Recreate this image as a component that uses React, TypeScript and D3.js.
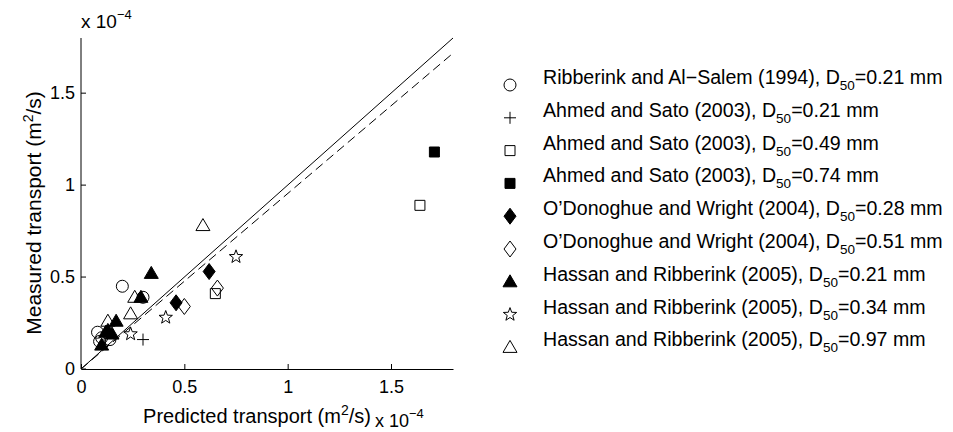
import { useEffect, useRef } from 'react';
import * as d3 from 'd3';

type Pt = [number, number];

// values in units of 1e-4 m^2/s : [predicted, measured]
const ribberinkAlSalem021: Pt[] = [[0.08, 0.2], [0.1, 0.17], [0.14, 0.16], [0.09, 0.15], [0.2, 0.45], [0.3, 0.39]];
const ahmedSato021: Pt[] = [[0.3, 0.16]];
const ahmedSato049: Pt[] = [[0.65, 0.41], [1.64, 0.89]];
const ahmedSato074: Pt[] = [[1.71, 1.18]];
const odonoghueWright028: Pt[] = [[0.46, 0.36], [0.62, 0.53]];
const odonoghueWright051: Pt[] = [[0.5, 0.34], [0.66, 0.44]];
const hassanRibberink021: Pt[] = [[0.1, 0.13], [0.13, 0.21], [0.15, 0.19], [0.12, 0.2], [0.17, 0.26], [0.29, 0.39], [0.34, 0.52]];
const hassanRibberink034: Pt[] = [[0.24, 0.19], [0.41, 0.28], [0.75, 0.61]];
const hassanRibberink097: Pt[] = [[0.13, 0.26], [0.24, 0.3], [0.26, 0.39], [0.59, 0.78]];

const seriesNames = [
  ['Ribberink and Al\u2212Salem (1994), D', '50', '=0.21 mm'],
  ['Ahmed and Sato (2003), D', '50', '=0.21 mm'],
  ['Ahmed and Sato (2003), D', '50', '=0.49 mm'],
  ['Ahmed and Sato (2003), D', '50', '=0.74 mm'],
  ['O\u2019Donoghue and Wright (2004), D', '50', '=0.28 mm'],
  ['O\u2019Donoghue and Wright (2004), D', '50', '=0.51 mm'],
  ['Hassan and Ribberink (2005), D', '50', '=0.21 mm'],
  ['Hassan and Ribberink (2005), D', '50', '=0.34 mm'],
  ['Hassan and Ribberink (2005), D', '50', '=0.97 mm'],
];
const seriesMarkers = ['circle', 'plus', 'square', 'square', 'diamond', 'diamond', 'triangle', 'star', 'triangle'];
const seriesFilled = [false, false, false, true, true, false, true, false, false];
const seriesData = [
  ribberinkAlSalem021, ahmedSato021, ahmedSato049, ahmedSato074,
  odonoghueWright028, odonoghueWright051,
  hassanRibberink021, hassanRibberink034, hassanRibberink097,
];

const xTicks = [0, 0.5, 1, 1.5];
const yTicks = [0, 0.5, 1, 1.5];
const dashedSlope = 0.954;

const FONT = '"Liberation Sans", Arial, Helvetica, sans-serif';

// marker outline centred on 0,0
const markerPath = (kind: string) => {
  switch (kind) {
    case 'circle':
      return 'M6,0A6,6 0 1,1 -6,0A6,6 0 1,1 6,0Z';
    case 'plus':
      return 'M-6,0H6M0,-6V6';
    case 'square':
      return 'M-5,-5H5V5H-5Z';
    case 'diamond':
      return 'M0,-8L6,0L0,8L-6,0Z';
    case 'triangle':
      return 'M0,-7L7,5H-7Z';
    case 'star': {
      const pts: string[] = [];
      for (let i = 0; i < 10; i++) {
        const r = i % 2 === 0 ? 7 : 2.9;
        const a = -Math.PI / 2 + (i * Math.PI) / 5;
        pts.push(`${(r * Math.cos(a)).toFixed(2)},${(r * Math.sin(a)).toFixed(2)}`);
      }
      return 'M' + pts.join('L') + 'Z';
    }
    default:
      return '';
  }
};

const TransportScatter = () => {
  const svgRef = useRef<SVGSVGElement>(null);
  const width = 953;
  const height = 432;

  useEffect(() => {
    if (!svgRef.current) return;
    const svg = d3.select(svgRef.current);
    svg.selectAll('*').remove();

    const xScale = d3.scaleLinear().domain([0, 1.8]).range([81, 453]);
    const yScale = d3.scaleLinear().domain([0, 1.8]).range([369, 38]);

    // 1:1 line and dashed fit
    svg.append('line')
      .attr('x1', xScale(0)).attr('y1', yScale(0))
      .attr('x2', xScale(1.8)).attr('y2', yScale(1.8))
      .attr('stroke', '#000')
      .attr('stroke-width', 1);

    svg.append('line')
      .attr('x1', xScale(0)).attr('y1', yScale(0))
      .attr('x2', xScale(1.8)).attr('y2', yScale(1.8 * dashedSlope))
      .attr('stroke', '#000')
      .attr('stroke-width', 1)
      .attr('stroke-dasharray', '9,5');

    // points
    seriesData.forEach((pts, i) => {
      svg.append('g')
        .selectAll('path')
        .data(pts)
        .join('path')
        .attr('transform', d => `translate(${xScale(d[0])},${yScale(d[1])})`)
        .attr('d', markerPath(seriesMarkers[i]))
        .attr('fill', seriesFilled[i] ? '#000' : 'none')
        .attr('stroke', '#000')
        .attr('stroke-width', 1);
    });

    // axes
    const xAxis = svg.append('g')
      .attr('transform', `translate(0,${yScale(0)})`)
      .call(d3.axisBottom(xScale).tickValues(xTicks).tickFormat(d3.format('')).tickSize(-5).tickSizeOuter(0).tickPadding(11));
    xAxis.select('.domain').attr('stroke', '#000');
    xAxis.selectAll('text').attr('font-size', 18).attr('font-family', FONT).attr('fill', '#000');

    const yAxis = svg.append('g')
      .attr('transform', `translate(${xScale(0)},0)`)
      .call(d3.axisLeft(yScale).tickValues(yTicks).tickFormat(d3.format('')).tickSize(-5).tickSizeOuter(0).tickPadding(6).offset(0));
    yAxis.select('.domain').attr('stroke', '#000');
    yAxis.selectAll('text').attr('font-size', 18).attr('font-family', FONT).attr('fill', '#000');

    // exponent labels
    const topExp = svg.append('text')
      .attr('x', 81).attr('y', 28)
      .attr('font-size', 19).attr('font-family', FONT);
    topExp.append('tspan').text('x 10');
    topExp.append('tspan').attr('font-size', 13).attr('dy', -9).text('\u22124');

    const botExp = svg.append('text')
      .attr('x', 375).attr('y', 427)
      .attr('font-size', 18).attr('font-family', FONT);
    botExp.append('tspan').text('x 10');
    botExp.append('tspan').attr('font-size', 13).attr('dy', -9).text('\u22124');

    // axis titles
    const xLabel = svg.append('text')
      .attr('x', 257).attr('y', 423)
      .attr('text-anchor', 'middle')
      .attr('font-size', 20).attr('font-family', FONT);
    xLabel.append('tspan').text('Predicted transport (m');
    xLabel.append('tspan').attr('font-size', 14).attr('dy', -8).text('2');
    xLabel.append('tspan').attr('dy', 8).text('/s)');

    const yLabel = svg.append('text')
      .attr('transform', 'translate(41,213) rotate(-90)')
      .attr('text-anchor', 'middle')
      .attr('font-size', 21).attr('font-family', FONT);
    yLabel.append('tspan').text('Measured transport (m');
    yLabel.append('tspan').attr('font-size', 14).attr('dy', -8).text('2');
    yLabel.append('tspan').attr('dy', 8).text('/s)');

    // legend
    const legend = svg.append('g').attr('transform', 'translate(510,85)');
    seriesNames.forEach((parts, i) => {
      const row = legend.append('g').attr('transform', `translate(0,${i * 32.8})`);
      row.append('path')
        .attr('d', markerPath(seriesMarkers[i]))
        .attr('fill', seriesFilled[i] ? '#000' : 'none')
        .attr('stroke', '#000')
        .attr('stroke-width', 1);
      const t = row.append('text')
        .attr('x', 33).attr('y', -1)
        .attr('font-size', 19.6).attr('font-family', FONT);
      t.append('tspan').text(parts[0]);
      t.append('tspan').attr('font-size', 13.5).attr('dy', 6).text(parts[1]);
      t.append('tspan').attr('dy', -6).text(parts[2]);
    });
  }, []);

  return (
    <svg
      ref={svgRef}
      width={width}
      height={height}
      style={{ position: 'absolute', left: 0, top: 0, background: '#fff' }}
    />
  );
};

export default function App() {
  return <TransportScatter />;
}
